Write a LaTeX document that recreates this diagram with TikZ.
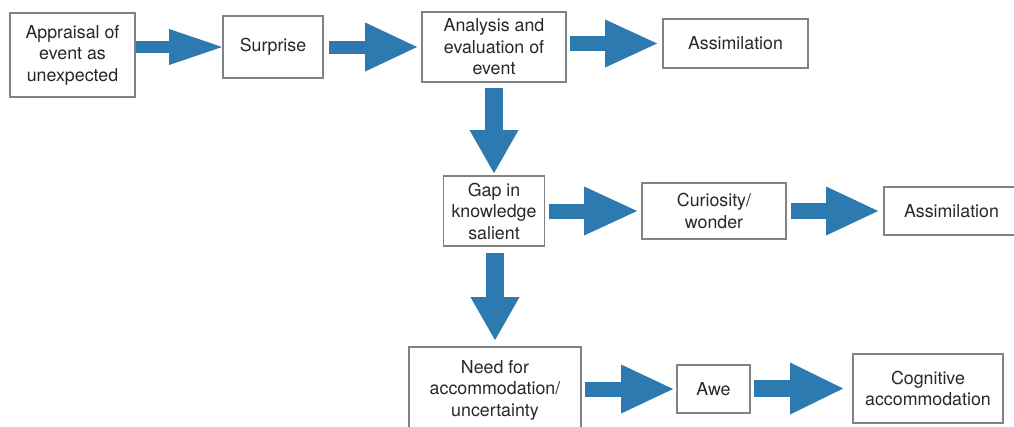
\documentclass[tikz,border=0pt]{standalone}
\usepackage{fontspec}
\setmainfont{TeX Gyre Heros}
\usetikzlibrary{arrows.meta}
\definecolor{arrowblue}{RGB}{44,122,176}
\definecolor{boxgray}{RGB}{130,130,130}
\definecolor{txtgray}{RGB}{40,40,40}
\begin{document}
\begin{tikzpicture}[x=1pt,y=-1pt,
  box/.style={draw=boxgray,line width=1.8pt,fill=white,text=txtgray,align=center,
    inner sep=0pt,font=\fontsize{17.8}{21.5}\selectfont},
  barrow/.style n args={3}{draw=arrowblue,line width=#1,
    -{Triangle[length=#2,width=#3,line width=0pt]}}]
\useasboundingbox (0,0) rectangle (1014,426);
\clip (0,0) rectangle (1014,426);
\fill[white] (0,0) rectangle (1014,426);

% nodes
\node[box,minimum width=125pt,minimum height=84pt] (app) at (72.5,55) {Appraisal of\\event as\\unexpected};
\node[box,minimum width=100pt,minimum height=62pt] (sur) at (273,47) {Surprise};
\node[box,minimum width=144pt,minimum height=70pt] (ana) at (494,47) {Analysis and\\evaluation of\\event};
\node[box,minimum width=145pt,minimum height=49pt] (asm) at (735.5,43.5) {Assimilation};
\node[box,minimum width=101pt,minimum height=70pt] (gap) at (494,211) {Gap in\\knowledge\\salient};
\node[box,minimum width=144pt,minimum height=56pt] (cur) at (714,211) {Curiosity/\\wonder};
\node[box,minimum width=135pt,minimum height=48pt] (asmb) at (951.5,211) {Assimilation};
\node[box,minimum width=172pt,minimum height=86pt] (need) at (495,390) {Need for\\accommodation/\\uncertainty};
\node[box,minimum width=73pt,minimum height=48pt] (awe) at (713.5,389) {Awe};
\node[box,minimum width=150pt,minimum height=69pt] (cog) at (928,388.5) {Cognitive\\accommodation};

% connectors
\draw[barrow={12pt}{53pt}{36pt}] (app.east |- sur.west) -- (sur.west);
\draw[barrow={13pt}{52pt}{49pt}] ([xshift=5pt]sur.east |- ana.west) -- ([xshift=-4pt]ana.west);
\draw[barrow={15pt}{52pt}{48pt}] ([xshift=3pt]ana.east |- asm.west) -- ([xshift=-5pt]asm.west);
\draw[barrow={18pt}{43pt}{49pt}] ([yshift=-5pt]gap.north |- ana.south) -- ([yshift=2pt]gap.north);
\draw[barrow={15pt}{53pt}{49pt}] ([xshift=4pt]gap.east |- cur.west) -- ([xshift=-4pt]cur.west);
\draw[barrow={16pt}{52pt}{49pt}] ([xshift=4pt]cur.east |- asmb.west) -- ([xshift=-5pt]asmb.west);
\draw[barrow={18pt}{43pt}{49pt}] ([yshift=-6pt]need.north |- gap.south) -- ([yshift=6pt]need.north);
\draw[barrow={15pt}{52pt}{49pt}] ([xshift=3pt]need.east |- awe.west) -- ([xshift=-3pt]awe.west);
\draw[barrow={17pt}{53pt}{52pt}] ([xshift=3pt]awe.east |- cog.west) -- ([xshift=-9pt]cog.west);
\end{tikzpicture}
\end{document}
